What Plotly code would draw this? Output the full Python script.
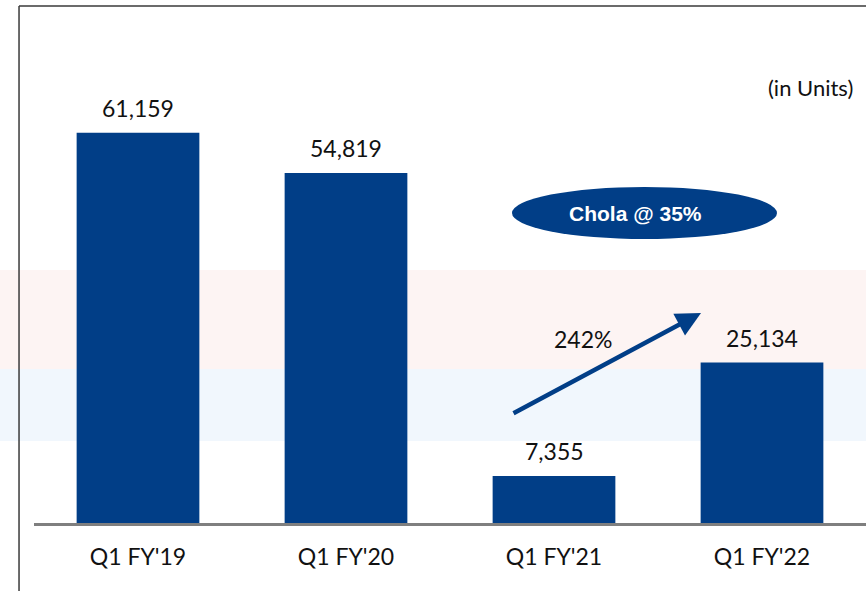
import plotly.graph_objects as go

categories = ["Q1 FY'19", "Q1 FY'20", "Q1 FY'21", "Q1 FY'22"]
units = [61159, 54819, 7355, 25134]
value_labels = ["61,159", "54,819", "7,355", "25,134"]
growth_label = "242%"
share_label = "Chola @ 35%"
unit_note = "(in Units)"

BAR = "#013e87"
FONT = "Lato, Carlito, Calibri, sans-serif"

fig = go.Figure()
fig.add_trace(go.Bar(x=categories, y=units, marker=dict(color=BAR, line=dict(width=0)),
                     width=0.59, hoverinfo="skip"))

annotations = []
for c, v, t in zip(categories, units, value_labels):
    annotations.append(dict(x=c, y=v, xref="x", yref="y", text=t, showarrow=False,
                            xanchor="center", yanchor="middle", yshift=25,
                            font=dict(family=FONT, size=23, color="#111111")))

annotations += [
    dict(x=0.9327, y=0.8414, xref="paper", yref="paper", text=unit_note, showarrow=False,
         xanchor="center", yanchor="middle",
         font=dict(family=FONT, size=22, color="#111111")),
    dict(x=0.7224, y=0.5996, xref="paper", yref="paper", text="<b>" + share_label + "</b>",
         showarrow=False, xanchor="center", yanchor="middle",
         font=dict(family="Liberation Sans, Arial, sans-serif", size=21, color="white")),
    dict(x=0.6599, y=0.3559, xref="paper", yref="paper", text=growth_label, showarrow=False,
         xanchor="center", yanchor="middle",
         font=dict(family=FONT, size=23, color="#111111")),
    dict(x=0.8017, y=0.4062, xref="paper", yref="paper", text="", showarrow=True,
         ax=-189, ay=101, axref="pixel", ayref="pixel",
         arrowhead=2, arrowsize=1.1, arrowwidth=4.5, arrowcolor=BAR),
]

shapes = [
    dict(type="rect", xref="paper", yref="paper", x0=-0.041, x1=1.0, y0=0.2979, y1=0.4894,
         fillcolor="#fdf4f3", line=dict(width=0), layer="below"),
    dict(type="rect", xref="paper", yref="paper", x0=-0.041, x1=1.0, y0=0.1586, y1=0.2979,
         fillcolor="#f1f7fd", line=dict(width=0), layer="below"),
    dict(type="circle", xref="paper", yref="paper", x0=0.5745, x1=0.893, y0=0.5493, y1=0.6499,
         fillcolor=BAR, line=dict(width=0), layer="below"),
    dict(type="line", xref="paper", yref="paper", x0=-0.018, x1=-0.018, y0=-0.14, y1=1.0,
         line=dict(color="#3a3a3a", width=1.5)),
    dict(type="line", xref="paper", yref="paper", x0=-0.018, x1=1.01, y0=1.0, y1=1.0,
         line=dict(color="#3a3a3a", width=1.5)),
]

fig.update_layout(
    width=866, height=591,
    margin=dict(l=34, r=0, t=6, b=68),
    paper_bgcolor="white", plot_bgcolor="rgba(0,0,0,0)",
    showlegend=False,
    annotations=annotations,
    shapes=shapes,
    xaxis=dict(range=[-0.5, 3.5], showline=True, linecolor="#7f7f7f", linewidth=2.5,
               ticks="outside", ticklen=12, tickcolor="rgba(0,0,0,0)",
               tickfont=dict(family=FONT, size=23, color="#111111"), showgrid=False, fixedrange=True),
    yaxis=dict(range=[0, 81000], visible=False, showgrid=False, zeroline=False, fixedrange=True),
)

fig.write_html("out.html", config={"displayModeBar": False},
               post_script="document.body.style.margin='0';document.body.style.overflow='hidden';")
